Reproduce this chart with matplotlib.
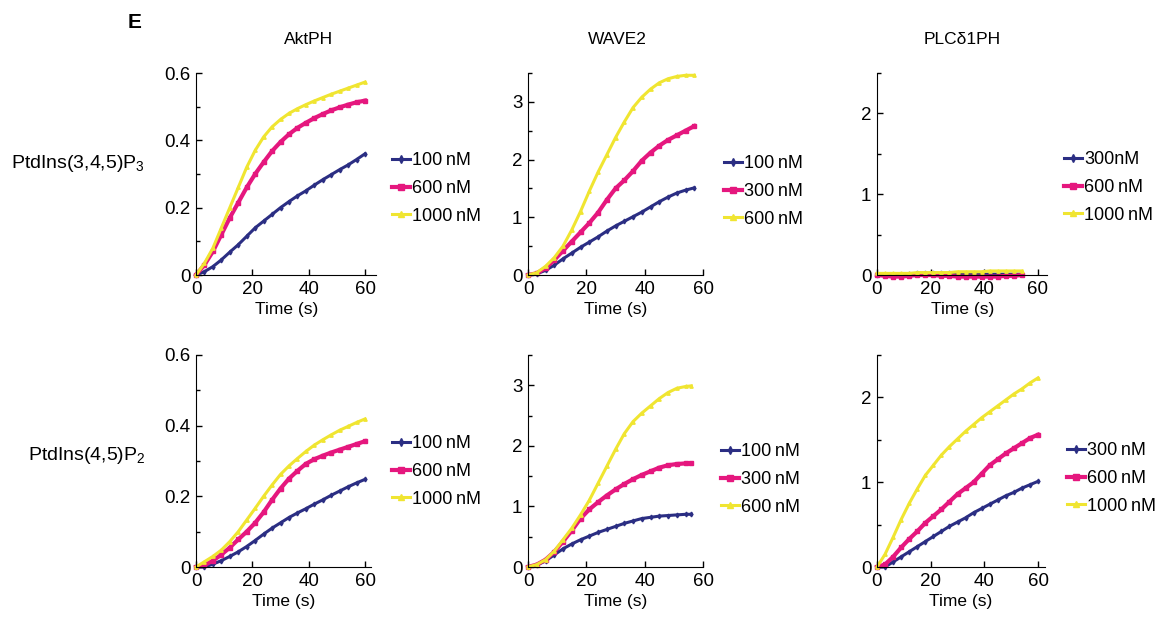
import numpy as np
import matplotlib.pyplot as plt
from matplotlib.ticker import MultipleLocator

plt.rcParams['font.family'] = ['Liberation Sans', 'DejaVu Sans']
plt.rcParams['mathtext.default'] = 'regular'

# time axes (s)
t60 = [0, 3, 6, 9, 12, 15, 18, 21, 24, 27, 30, 33, 36, 39, 42, 45, 48, 51, 54, 57, 60]
t57 = [0, 3, 6, 9, 12, 15, 18, 21, 24, 27, 30, 33, 36, 39, 42, 45, 48, 51, 54, 57]
t56 = [0, 3, 6, 9, 12, 15, 18, 21, 24, 27, 30, 33, 36, 39, 42, 45, 48, 51, 54, 56]
t54 = [0, 3, 6, 9, 12, 15, 18, 21, 24, 27, 30, 33, 36, 39, 42, 45, 48, 51, 54]

# PtdIns(3,4,5)P3 row
akt_pip3_100 = [0, 0.01, 0.025, 0.045, 0.068, 0.09, 0.115, 0.14, 0.16, 0.18, 0.2, 0.218, 0.235, 0.25, 0.267, 0.283, 0.298, 0.313, 0.327, 0.343, 0.36]
akt_pip3_600 = [0, 0.03, 0.07, 0.12, 0.17, 0.215, 0.26, 0.3, 0.335, 0.368, 0.395, 0.418, 0.437, 0.452, 0.466, 0.478, 0.489, 0.498, 0.506, 0.513, 0.518]
akt_pip3_1000 = [0, 0.035, 0.08, 0.14, 0.2, 0.26, 0.32, 0.37, 0.41, 0.44, 0.462, 0.48, 0.494, 0.506, 0.517, 0.527, 0.537, 0.546, 0.555, 0.564, 0.573]

wave_pip3_100 = [0, 0.02, 0.08, 0.17, 0.28, 0.38, 0.48, 0.57, 0.66, 0.76, 0.85, 0.93, 1.01, 1.09, 1.18, 1.27, 1.35, 1.42, 1.47, 1.51]
wave_pip3_300 = [0, 0.03, 0.12, 0.26, 0.42, 0.58, 0.74, 0.9, 1.08, 1.3, 1.5, 1.64, 1.8, 1.98, 2.12, 2.24, 2.34, 2.42, 2.5, 2.58]
wave_pip3_600 = [0, 0.04, 0.15, 0.3, 0.5, 0.78, 1.1, 1.45, 1.78, 2.08, 2.38, 2.65, 2.9, 3.08, 3.22, 3.33, 3.4, 3.44, 3.46, 3.46]

plc_pip3_300 = [0.0, 0.0, -0.005, 0.0, 0.01, 0.02, 0.02, 0.02, 0.02, 0.02, 0.015, 0.01, 0.01, 0.01, 0.01, 0.01, 0.01, 0.01, 0.01]
plc_pip3_600 = [0, -0.01, -0.02, -0.02, -0.01, 0.0, 0.0, 0.0, -0.01, -0.01, -0.02, -0.02, -0.02, -0.02, -0.02, -0.02, -0.01, -0.01, 0.0]
plc_pip3_1000 = [0.02, 0.02, 0.02, 0.02, 0.02, 0.03, 0.03, 0.03, 0.03, 0.03, 0.04, 0.04, 0.04, 0.04, 0.05, 0.05, 0.05, 0.05, 0.05]

# PtdIns(4,5)P2 row
akt_pip2_100 = [0, 0.0, 0.008, 0.018, 0.03, 0.043, 0.058, 0.075, 0.093, 0.11, 0.125, 0.14, 0.153, 0.165, 0.178, 0.19, 0.203, 0.215, 0.227, 0.238, 0.248]
akt_pip2_600 = [0, 0.005, 0.018, 0.035, 0.055, 0.078, 0.1, 0.125, 0.155, 0.19, 0.222, 0.25, 0.272, 0.292, 0.305, 0.315, 0.324, 0.332, 0.34, 0.348, 0.356]
akt_pip2_1000 = [0, 0.015, 0.03, 0.048, 0.072, 0.1, 0.133, 0.166, 0.2, 0.232, 0.262, 0.286, 0.307, 0.327, 0.345, 0.36, 0.374, 0.387, 0.398, 0.409, 0.419]

wave_pip2_100 = [0, 0.03, 0.1, 0.2, 0.3, 0.38, 0.45, 0.51, 0.57, 0.62, 0.67, 0.72, 0.76, 0.8, 0.82, 0.84, 0.85, 0.86, 0.87, 0.87]
wave_pip2_300 = [0, 0.04, 0.12, 0.25, 0.42, 0.6, 0.8, 0.95, 1.07, 1.18, 1.28, 1.37, 1.45, 1.52, 1.58, 1.64, 1.68, 1.7, 1.71, 1.71]
wave_pip2_600 = [0, 0.04, 0.12, 0.26, 0.45, 0.64, 0.86, 1.1, 1.38, 1.66, 1.94, 2.2, 2.4, 2.54, 2.66, 2.78, 2.88, 2.95, 2.98, 2.99]

plc_pip2_300 = [0, 0.0, 0.06, 0.12, 0.18, 0.24, 0.3, 0.36, 0.42, 0.48, 0.53, 0.58, 0.64, 0.69, 0.74, 0.79, 0.84, 0.88, 0.93, 0.97, 1.01]
plc_pip2_600 = [0, 0.03, 0.12, 0.23, 0.33, 0.42, 0.52, 0.6, 0.68, 0.77, 0.86, 0.93, 1.0, 1.1, 1.2, 1.27, 1.34, 1.4, 1.46, 1.52, 1.56]
plc_pip2_1000 = [0, 0.15, 0.35, 0.56, 0.75, 0.92, 1.08, 1.2, 1.32, 1.42, 1.51, 1.6, 1.68, 1.76, 1.83, 1.9, 1.97, 2.04, 2.1, 2.17, 2.23]

navy, magenta, yellow = '#2b2e83', '#e5177e', '#f0e531'
markers = ['d', 's', '^']
colors = [navy, magenta, yellow]
lws = [2.2, 3.0, 2.2]

col_titles = ['AktPH', 'WAVE2', 'PLC\u03b41PH']
row_labels = ['PtdIns(3,4,5)P$_3$', 'PtdIns(4,5)P$_2$']

panels = [
    # (row, col, t, series, labels, ymax, ymajor, xmax)
    (0, 0, t60, [akt_pip3_100, akt_pip3_600, akt_pip3_1000], ['100\u2009nM', '600\u2009nM', '1000\u2009nM'], 0.6, 0.2, 64),
    (0, 1, t57, [wave_pip3_100, wave_pip3_300, wave_pip3_600], ['100\u2009nM', '300\u2009nM', '600\u2009nM'], 3.5, 1, 60),
    (0, 2, t54, [plc_pip3_300, plc_pip3_600, plc_pip3_1000], ['300nM', '600\u2009nM', '1000\u2009nM'], 2.5, 1, 63.5),
    (1, 0, t60, [akt_pip2_100, akt_pip2_600, akt_pip2_1000], ['100\u2009nM', '600\u2009nM', '1000\u2009nM'], 0.6, 0.2, 62),
    (1, 1, t56, [wave_pip2_100, wave_pip2_300, wave_pip2_600], ['100\u2009nM', '300\u2009nM', '600\u2009nM'], 3.5, 1, 60),
    (1, 2, t60, [plc_pip2_300, plc_pip2_600, plc_pip2_1000], ['300\u2009nM', '600\u2009nM', '1000\u2009nM'], 2.5, 1, 62.5),
]

W, H = 1157, 619
fig = plt.figure(figsize=(W / 100, H / 100), dpi=100)

# axes boxes in pixels: x of 0 and 60 for each column; top, bottom for each row
col_px = [(196, 365), (528, 703), (877, 1038)]
row_px = [(73, 275), (355, 567)]
legend_px = [[(383, 143), (715, 146), (1055, 142)],
             [(383, 426), (712, 434), (1058, 433)]]

for r, c, t, series, labels, ymax, ymajor, xmax in panels:
    x0, x60 = col_px[c]
    ytop, ybot = row_px[r]
    span = (x60 - x0) * xmax / 60.0
    ax = fig.add_axes([x0 / W, 1 - ybot / H, span / W, (ybot - ytop) / H])
    for y, lab, col, m, lw in zip(series, labels, colors, markers, lws):
        ax.plot(t, y, color=col, lw=lw, marker=m, ms=2.4, mec=col, mfc=col,
                label=lab, clip_on=False)
    ax.set_xlim(0, xmax)
    ax.set_ylim(0, ymax)
    ax.spines['top'].set_visible(False)
    ax.spines['right'].set_visible(False)
    ax.xaxis.set_major_locator(MultipleLocator(20))
    ax.yaxis.set_major_locator(MultipleLocator(ymajor))
    ax.yaxis.set_minor_locator(MultipleLocator(ymajor / 2))
    ax.yaxis.set_major_formatter(plt.FuncFormatter(lambda v, p: '0' if abs(v) < 1e-9 else ('%g' % v)))
    ax.tick_params(direction='in', labelsize=13.5, length=4, width=1)
    ax.tick_params(axis='x', pad=4)
    ax.tick_params(axis='y', pad=4)
    ax.tick_params(which='minor', direction='in', length=3, width=1)
    ax.set_xlabel('Time (s)', fontsize=12.5, labelpad=3)
    lx, ly = legend_px[r][c]
    ax.legend(loc='upper left', bbox_to_anchor=(lx / W, 1 - ly / H),
              bbox_transform=fig.transFigure, frameon=False, fontsize=13,
              handlelength=1.0, handletextpad=0.1, labelspacing=0.6,
              borderpad=0, markerscale=1.6)

fig.text(135 / W, 1 - 22 / H, 'E', fontsize=15, fontweight='bold', ha='center', va='center')
for c, title in enumerate(col_titles):
    cx = [309, 617, 962][c]
    fig.text(cx / W, 1 - 40 / H, title, fontsize=12.5, ha='center', va='center')
fig.text(145 / W, 1 - 163 / H, row_labels[0], fontsize=14, ha='right', va='center')
fig.text(145 / W, 1 - 455 / H, row_labels[1], fontsize=14, ha='right', va='center')

fig.savefig('out.png', dpi=100)
